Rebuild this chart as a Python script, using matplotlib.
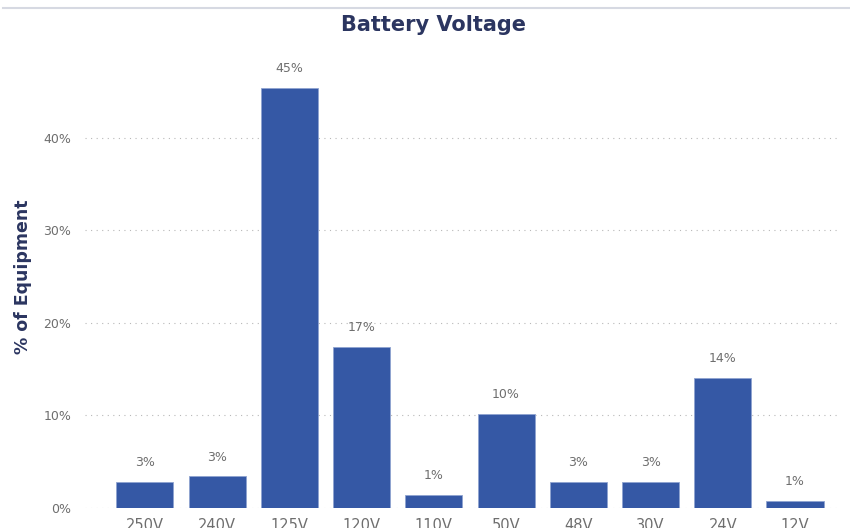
import matplotlib
matplotlib.use('Agg')
import matplotlib.pyplot as plt
from matplotlib.lines import Line2D
from matplotlib.ticker import FuncFormatter

# battery voltage share of equipment
voltages = ['250V', '240V', '125V', '120V', '110V', '50V', '48V', '30V', '24V', '12V']
shares = [2.8, 3.4, 45.4, 17.4, 1.4, 10.2, 2.8, 2.8, 14.1, 0.8]

bar_color = '#3558a5'
navy = '#2b3560'
grey = '#6e6e6e'

fig = plt.figure(figsize=(8.5, 5.28), dpi=100)
ax = fig.add_axes([0.1, 0.038, 0.888, 0.876])

x = range(len(voltages))
ax.bar(x, shares, width=0.79, color=bar_color, edgecolor='#8fa3d0', linewidth=0.6, zorder=3)

for i, v in zip(x, shares):
    ax.text(i, v + 1.4, f'{round(v)}%', ha='center', va='bottom', fontsize=9, color=grey)

ax.set_xlim(-0.83, 9.62)
ax.set_ylim(0, 50)
ax.set_yticks([0, 10, 20, 30, 40])
ax.yaxis.set_major_formatter(FuncFormatter(lambda v, p: f'{int(v)}%'))
ax.set_xticks(list(x))
ax.set_xticklabels(voltages)
ax.tick_params(axis='both', length=0, labelsize=9, labelcolor=grey)
ax.tick_params(axis='x', pad=7, labelsize=10.5)
ax.tick_params(axis='y', pad=10)

ax.grid(axis='y', linestyle=(0, (1, 4)), color='#b8b8b8', linewidth=0.8, zorder=0)
for s in ax.spines.values():
    s.set_visible(False)

ax.set_ylabel('% of Equipment', fontsize=12.5, fontweight='bold', color=navy, labelpad=8)

fig.text(0.51, 0.952, 'Battery Voltage', ha='center', va='center',
         fontsize=15, fontweight='bold', color=navy)
fig.add_artist(Line2D([0.004, 1.0], [0.985, 0.985], color='#d6d9e2', linewidth=1.5))

fig.savefig('out.png', dpi=100)
